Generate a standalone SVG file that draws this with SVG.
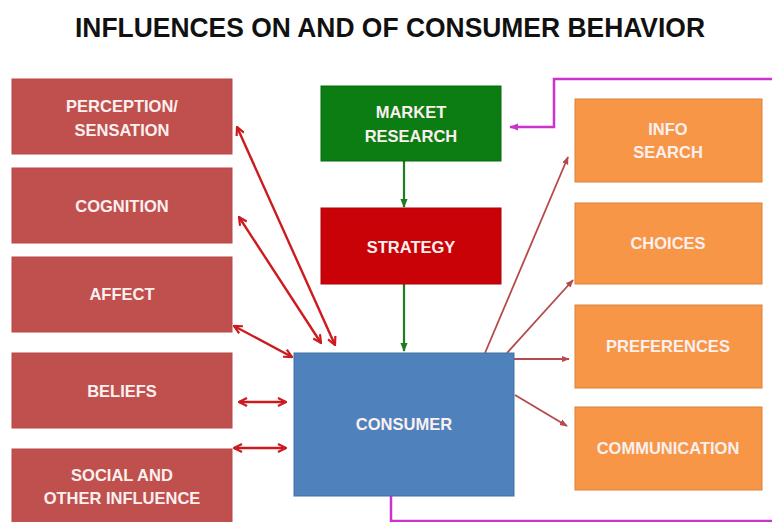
<svg xmlns="http://www.w3.org/2000/svg" width="772" height="522" viewBox="0 0 772 522">
<defs>
<style>
.t{font-family:"Liberation Sans",Arial,sans-serif;font-weight:bold;text-anchor:middle}
.lbl{font-size:16.5px;fill:#fbf0ef}
.inf{fill:#c0504d;stroke:#b9474a;stroke-width:1}
.out{fill:#f79646;stroke:#d9823a;stroke-width:1}
.red{stroke:#cc1a1f;stroke-width:2.4;fill:none;marker-start:url(#ov);marker-end:url(#ov)}
.brn{stroke:#b5494b;stroke-width:1.8;fill:none;marker-end:url(#tb)}
.grn{stroke:#1f7d1f;stroke-width:2.2;fill:none;marker-end:url(#tg)}
.mag{stroke:#cc33cc;stroke-width:2.5;fill:none;marker-end:url(#tm)}
</style>
<marker id="ov" viewBox="0 0 10 10" refX="9" refY="5" markerWidth="10" markerHeight="10" orient="auto-start-reverse" markerUnits="userSpaceOnUse">
<path d="M1,1 L9,5 L1,9" fill="none" stroke="#cc1a1f" stroke-width="2.2"/>
</marker>
<marker id="tb" viewBox="0 0 10 10" refX="9" refY="5" markerWidth="8" markerHeight="8" orient="auto" markerUnits="userSpaceOnUse">
<path d="M0,1 L10,5 L0,9 Z" fill="#b5494b"/>
</marker>
<marker id="tg" viewBox="0 0 10 10" refX="9" refY="5" markerWidth="9" markerHeight="9" orient="auto" markerUnits="userSpaceOnUse">
<path d="M0,1 L10,5 L0,9 Z" fill="#1f7d1f"/>
</marker>
<marker id="tm" viewBox="0 0 10 10" refX="9" refY="5" markerWidth="9" markerHeight="9" orient="auto" markerUnits="userSpaceOnUse">
<path d="M0,1 L10,5 L0,9 Z" fill="#cc33cc"/>
</marker>
</defs>
<rect width="772" height="522" fill="#ffffff"/>
<text class="t" x="390" y="37" font-size="27" fill="#111111" textLength="630" lengthAdjust="spacingAndGlyphs">INFLUENCES ON AND OF CONSUMER BEHAVIOR</text>

<g id="connectors">
<path class="mag" d="M391,496 V521 H778 V79 H554 V127 H510"/>
<path class="grn" d="M404,161 V207"/>
<path class="grn" d="M404,284 V351"/>
<path class="red" d="M237,127 L335,345"/>
<path class="red" d="M239,217 L321,343"/>
<path class="red" d="M234,326 L292,357"/>
<path class="red" d="M239,402 L286,402"/>
<path class="red" d="M234,448 L286,448"/>
<path class="brn" d="M485,353 L568,157"/>
<path class="brn" d="M507,353 L573,280"/>
<path class="brn" d="M514,359 L569,359"/>
<path class="brn" d="M515,395 L567,426"/>
</g>

<g id="perception"><rect class="inf" x="12" y="79" width="220" height="75"/><text class="t lbl" x="122" y="112">PERCEPTION/</text><text class="t lbl" x="122" y="136">SENSATION</text></g>
<g id="cognition"><rect class="inf" x="12" y="168" width="220" height="75"/><text class="t lbl" x="122" y="212">COGNITION</text></g>
<g id="affect"><rect class="inf" x="12" y="257" width="220" height="75"/><text class="t lbl" x="122" y="300">AFFECT</text></g>
<g id="beliefs"><rect class="inf" x="12" y="353" width="220" height="75"/><text class="t lbl" x="122" y="397">BELIEFS</text></g>
<g id="social"><rect class="inf" x="12" y="449" width="220" height="80"/><text class="t lbl" x="122" y="481">SOCIAL AND</text><text class="t lbl" x="122" y="504">OTHER INFLUENCE</text></g>

<g id="market-research"><rect x="321" y="86" width="180" height="75" fill="#0b7d12" stroke="#086b0e" stroke-width="1"/><text class="t lbl" x="411" y="118">MARKET</text><text class="t lbl" x="411" y="142">RESEARCH</text></g>
<g id="strategy"><rect x="321" y="208" width="180" height="76" fill="#c90208" stroke="#b00006" stroke-width="1"/><text class="t lbl" x="411" y="253">STRATEGY</text></g>
<g id="consumer"><rect x="294" y="353" width="220" height="143" fill="#4f81bd" stroke="#40709f" stroke-width="1"/><text class="t lbl" x="404" y="430">CONSUMER</text></g>

<g id="info-search"><rect class="out" x="575" y="99" width="187" height="83"/><text class="t lbl" x="668" y="135">INFO</text><text class="t lbl" x="668" y="158">SEARCH</text></g>
<g id="choices"><rect class="out" x="575" y="203" width="187" height="81"/><text class="t lbl" x="668" y="249">CHOICES</text></g>
<g id="preferences"><rect class="out" x="575" y="305" width="187" height="83"/><text class="t lbl" x="668" y="352">PREFERENCES</text></g>
<g id="communication"><rect class="out" x="575" y="407" width="187" height="83"/><text class="t lbl" x="668" y="454">COMMUNICATION</text></g>
</svg>
